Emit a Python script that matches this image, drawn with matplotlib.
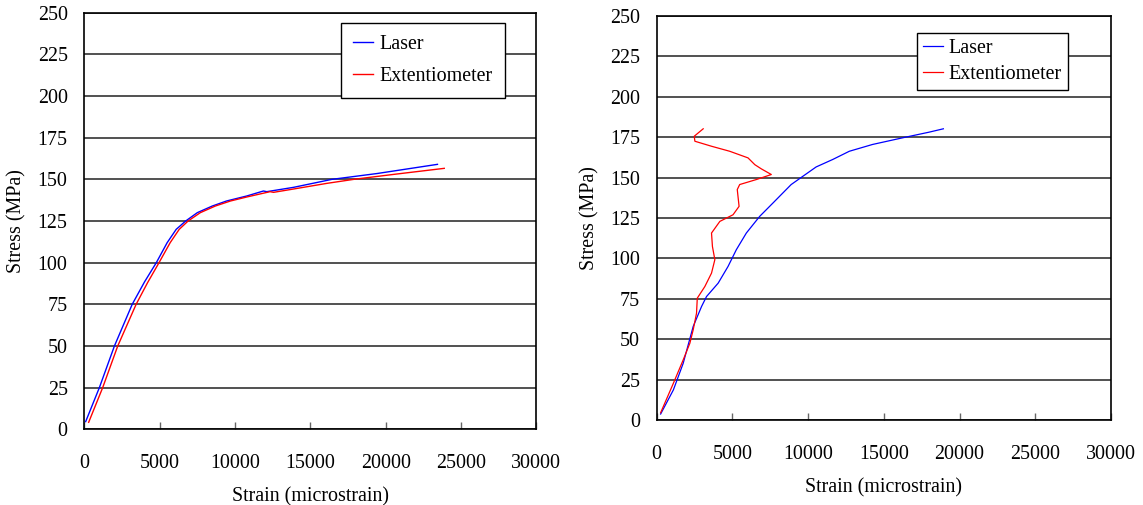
import matplotlib
matplotlib.use('Agg')
import matplotlib.pyplot as plt

# left panel
laser1_x = [90, 1000, 2000, 3180, 4000, 4780, 5500, 6100, 6730, 7500, 8500, 9440, 10780, 11890, 12110,
            13890, 16440, 19440, 23440]
laser1_y = [4.6, 25, 50, 75, 88.5, 100, 112, 120, 125, 130, 134, 137, 140, 143, 142.6,
            145.2, 150, 153.5, 159]
ext1_x = [290, 1220, 2220, 3440, 4200, 4960, 5700, 6300, 6890, 7700, 8700, 9700, 10780, 12330, 12560,
          13890, 16110, 17890, 20560, 23890]
ext1_y = [4.2, 25, 50, 75, 88, 100, 112, 120, 125, 130, 134, 137, 139.4, 142.6, 142.2,
          144.2, 147.6, 150, 153, 156.6]

# right panel
laser2_x = [260, 1100, 1750, 2410, 2960, 3290, 4060, 4710, 5260, 5920, 6800, 7680, 8880, 9650,
            10530, 11620, 12720, 14250, 16230, 17980, 18930]
laser2_y = [3.7, 18.6, 35.1, 57.9, 70.2, 76.4, 84.7, 95, 105.4, 115.7, 126, 134.3, 145.7, 150.8,
            156.6, 161.2, 166.3, 170.5, 174.6, 178.1, 180.2]
ext2_x = [260, 1100, 1750, 2190, 2410, 2630, 2680, 3180, 3620, 3840, 3680, 3620, 4170, 5040, 5440,
          5320, 5480, 6580, 7570, 6910, 6480, 6030, 4820, 3620, 2520, 2480, 3070]
ext2_y = [4.5, 22.7, 37.2, 47.5, 55.8, 66.1, 75.4, 82.6, 90.9, 99.2, 107.4, 115.7, 122.9, 127, 132.2,
          142.6, 145.7, 148.8, 151.9, 155.4, 158, 162.2, 166.3, 169.4, 172.5, 175.6, 180.2]

plt.rcParams['font.family'] = ['Liberation Serif', 'DejaVu Serif']
fs = 14.4

fig = plt.figure(figsize=(11.43, 5.05), dpi=100)
W, H = 1143.0, 505.0

def make_axes(l, r, t, b):
    return fig.add_axes([l / W, 1 - b / H, (r - l) / W, (b - t) / H])

ax1 = make_axes(84.3, 536.3, 12.7, 429.3)
ax2 = make_axes(656.7, 1111, 16, 420)

for ax in (ax1, ax2):
    ax.set_xlim(0, 30000)
    ax.set_ylim(0, 250)
    ax.set_xticks(range(0, 30001, 5000))
    ax.set_yticks(range(0, 251, 25))
    ax.grid(axis='y', color='0.2', lw=1.2)
    ax.set_axisbelow(True)
    ax.tick_params(axis='x', direction='in', length=5, width=1, pad=18, labelsize=fs, color='0.4')
    ax.tick_params(axis='y', direction='in', length=0, pad=12, labelsize=fs)
    for s in ax.spines.values():
        s.set_linewidth(1.2)
        s.set_color('black')
    ax.set_ylabel('Stress (MPa)', fontsize=fs)
    ax.set_xlabel('Strain (microstrain)', fontsize=fs, labelpad=10)

ax1.plot(laser1_x, laser1_y, color='blue', lw=1.0, label='Laser')
ax1.plot(ext1_x, ext1_y, color='red', lw=1.0, label='Extentiometer')
ax2.plot(laser2_x, laser2_y, color='blue', lw=0.9, label='Laser')
ax2.plot(ext2_x, ext2_y, color='red', lw=0.9, label='Extentiometer')

ax1.yaxis.set_label_coords(-0.127, 0.5)
ax2.yaxis.set_label_coords(-0.125, 0.5)

leg1 = ax1.legend(loc='upper left', bbox_to_anchor=(0.569, 0.976), fontsize=fs, fancybox=False,
                  framealpha=1, edgecolor='black', handlelength=1.0, handletextpad=0.3,
                  labelspacing=0.65, borderpad=0.6, borderaxespad=0)
leg2 = ax2.legend(loc='upper left', bbox_to_anchor=(0.572, 0.957), fontsize=fs, fancybox=False,
                  framealpha=1, edgecolor='black', handlelength=1.0, handletextpad=0.3,
                  labelspacing=0.35, borderpad=0.3, borderaxespad=0)
for leg in (leg1, leg2):
    leg.get_frame().set_linewidth(1.0)

fig.savefig('out.png', dpi=100)
